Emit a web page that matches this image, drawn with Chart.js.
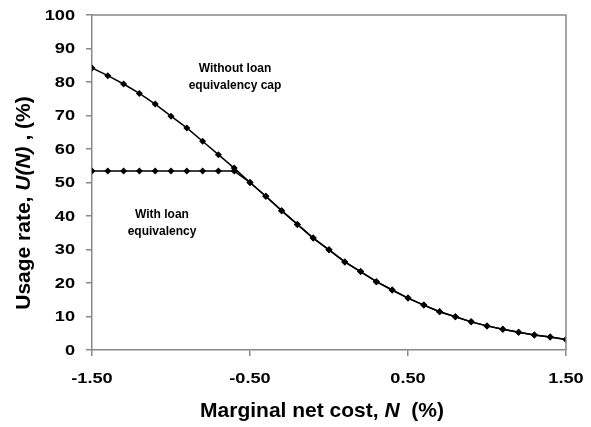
<!DOCTYPE html>
<html>
<head>
<meta charset="utf-8">
<script src="https://cdn.jsdelivr.net/npm/chart.js@4.4.0/dist/chart.umd.min.js"></script>
<style>
  html, body { margin: 0; padding: 0; background: #ffffff; }
  #wrap { width: 591px; height: 427px; }
</style>
</head>
<body>
<div id="wrap"><canvas id="chart"></canvas></div>
<script>
// dados
var custoN = [-1.5, -1.4, -1.3, -1.2, -1.1, -1.0, -0.9, -0.8, -0.7, -0.6, -0.5,
  -0.4, -0.3, -0.2, -0.1, 0.0, 0.1, 0.2, 0.3, 0.4, 0.5,
  0.6, 0.7, 0.8, 0.9, 1.0, 1.1, 1.2, 1.3, 1.4, 1.5];
var semTeto = [84.2, 81.9, 79.4, 76.6, 73.4, 69.8, 66.3, 62.3, 58.3, 54.3, 50.0,
  45.9, 41.6, 37.5, 33.4, 29.9, 26.3, 23.4, 20.4, 17.9, 15.5,
  13.4, 11.4, 9.9, 8.4, 7.2, 6.2, 5.3, 4.5, 3.9, 3.1];
var comTeto = [53.4, 53.4, 53.4, 53.4, 53.4, 53.4, 53.4, 53.4, 53.4, 53.4, 50.0,
  45.9, 41.6, 37.5, 33.4, 29.9, 26.3, 23.4, 20.4, 17.9, 15.5,
  13.4, 11.4, 9.9, 8.4, 7.2, 6.2, 5.3, 4.5, 3.9, 3.1];
var xTicks = [-1.5, -0.5, 0.5, 1.5];
var yTicks = [0, 10, 20, 30, 40, 50, 60, 70, 80, 90, 100];

var fonte = 'Arial, "Liberation Sans", sans-serif';

function pontos(ys) {
  var out = [];
  for (var i = 0; i < custoN.length; i++) {
    out.push({ x: custoN[i], y: ys[i] });
  }
  return out;
}

// desenha textos com partes em italico
function desenhaPartes(ctx, partes, x, y) {
  var total = 0;
  for (var i = 0; i < partes.length; i++) {
    ctx.font = partes[i][1];
    total += ctx.measureText(partes[i][0]).width;
  }
  var pos = x - total / 2;
  for (var i = 0; i < partes.length; i++) {
    ctx.font = partes[i][1];
    ctx.fillText(partes[i][0], pos, y);
    pos += ctx.measureText(partes[i][0]).width;
  }
}

// rotulo esticado na horizontal (o original e mais largo)
function rotuloLargo(ctx, txt, x, y, alinhar) {
  var esticar = 1.3;
  ctx.save();
  ctx.translate(x, y);
  ctx.scale(esticar, 1);
  ctx.textAlign = alinhar;
  ctx.fillText(txt, 0, 0);
  ctx.restore();
}

var extras = {
  id: 'extras',
  afterDraw: function (chart) {
    var ctx = chart.ctx;
    var a = chart.chartArea;
    var sx = chart.scales.x;
    var sy = chart.scales.y;
    ctx.save();
    // moldura
    ctx.strokeStyle = '#888888';
    ctx.lineWidth = 1.5;
    ctx.beginPath();
    ctx.moveTo(a.left, a.top);
    ctx.lineTo(a.right, a.top);
    ctx.lineTo(a.right, a.bottom);
    ctx.stroke();

    ctx.fillStyle = '#000000';
    ctx.textBaseline = 'middle';

    // rotulos dos eixos
    ctx.font = 'bold 14px ' + fonte;
    for (var i = 0; i < xTicks.length; i++) {
      rotuloLargo(ctx, xTicks[i].toFixed(2), sx.getPixelForValue(xTicks[i]), 379, 'center');
    }
    for (var i = 0; i < yTicks.length; i++) {
      rotuloLargo(ctx, String(yTicks[i]), 75, sy.getPixelForValue(yTicks[i]) + 1, 'right');
    }

    ctx.textAlign = 'left';
    var b = 'bold 21px ' + fonte;
    var bi = 'italic bold 21px ' + fonte;
    desenhaPartes(ctx, [['Marginal net cost, ', b], ['N', bi], ['  (%)', b]], 322, 411);

    ctx.save();
    ctx.translate(24, 203);
    ctx.rotate(-Math.PI / 2);
    desenhaPartes(ctx, [['Usage rate, ', b], ['U(N)', bi], [' , (%)', b]], 0, 0);
    ctx.restore();

    // anotacoes
    ctx.textAlign = 'center';
    ctx.font = 'bold 12px ' + fonte;
    ctx.fillText('Without loan', 235, 69);
    ctx.fillText('equivalency cap', 235, 86);
    ctx.fillText('With loan', 162, 215);
    ctx.fillText('equivalency', 162, 232);
    ctx.restore();
  }
};

var ctx = document.getElementById('chart').getContext('2d');
var chart = new Chart(ctx, {
  type: 'scatter',
  data: {
    datasets: [{
      label: 'Without loan equivalency cap',
      data: pontos(semTeto),
      showLine: true,
      borderColor: '#000000',
      backgroundColor: '#000000',
      borderWidth: 1.5,
      pointStyle: 'rectRot',
      pointRadius: 3.5,
      pointBorderWidth: 0
    }, {
      label: 'With loan equivalency',
      data: pontos(comTeto),
      showLine: true,
      borderColor: '#000000',
      backgroundColor: '#000000',
      borderWidth: 1.5,
      pointStyle: 'rectRot',
      pointRadius: 3.5,
      pointBorderWidth: 0
    }]
  },
  options: {
    responsive: true,
    maintainAspectRatio: false,
    animation: false,
    layout: { padding: { top: 15, right: 25, left: 0, bottom: 0 } },
    plugins: {
      legend: { display: false },
      tooltip: { enabled: false }
    },
    scales: {
      x: {
        type: 'linear',
        min: -1.5,
        max: 1.5,
        afterBuildTicks: function (scale) {
          scale.ticks = xTicks.map(function (v) { return { value: v }; });
        },
        afterFit: function (scale) { scale.height = 77; },
        grid: { drawOnChartArea: false, tickLength: 6, color: '#888888', lineWidth: 1.5 },
        border: { color: '#888888', width: 1.5 },
        ticks: { display: false }
      },
      y: {
        min: 0,
        max: 100,
        afterBuildTicks: function (scale) {
          scale.ticks = yTicks.map(function (v) { return { value: v }; });
        },
        afterFit: function (scale) { scale.width = 92; },
        grid: { drawOnChartArea: false, tickLength: 6, color: '#888888', lineWidth: 1.5 },
        border: { color: '#888888', width: 1.5 },
        ticks: { display: false }
      }
    }
  },
  plugins: [extras]
});
</script>
</body>
</html>
